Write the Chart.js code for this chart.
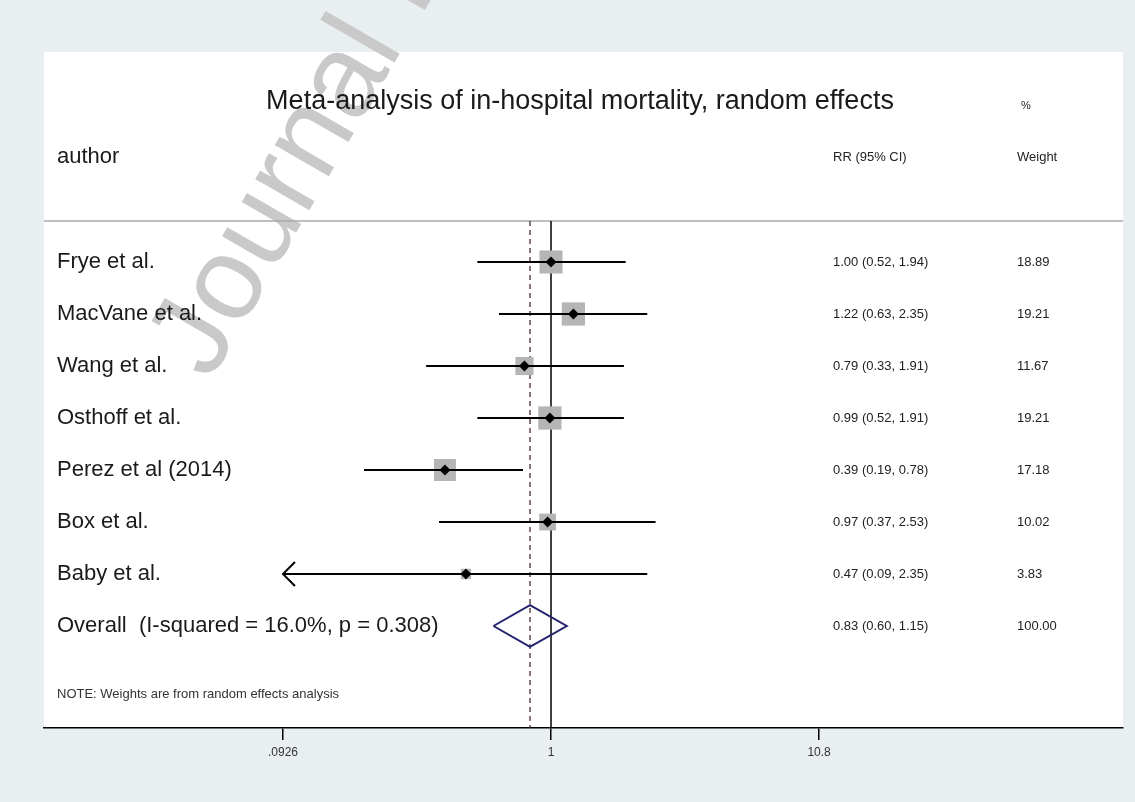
<!DOCTYPE html>
<html>
<head>
<meta charset="utf-8">
<script src="https://cdn.jsdelivr.net/npm/chart.js@4.4.1/dist/chart.umd.min.js"></script>
<style>
  html, body { margin: 0; padding: 0; background: #e9eff1; }
  #wrap { width: 1135px; height: 802px; position: relative; }
</style>
</head>
<body>
<div id="wrap"><canvas id="c"></canvas></div>
<script>
// ---------------- DATA ----------------
const authors = ['Frye et al.', 'MacVane et al.', 'Wang et al.', 'Osthoff et al.', 'Perez et al (2014)', 'Box et al.', 'Baby et al.'];
const rr      = [1.00, 1.22, 0.79, 0.99, 0.39, 0.97, 0.47];
const ciLow   = [0.52, 0.63, 0.33, 0.52, 0.19, 0.37, 0.09];
const ciHigh  = [1.94, 2.35, 1.91, 1.91, 0.78, 2.53, 2.35];
const weights = [18.89, 19.21, 11.67, 19.21, 17.18, 10.02, 3.83];

const overallLabel  = 'Overall  (I-squared = 16.0%, p = 0.308)';
const overallRR     = 0.83;
const overallLow    = 0.60;
const overallHigh   = 1.15;
const overallWeight = 100.00;

const tickValues = [0.0926, 1, 10.8];
const tickLabels = ['.0926', '1', '10.8'];

const titleText  = 'Meta-analysis of in-hospital mortality, random effects';
const studyHeader = 'author';
const ciHeader    = 'RR (95% CI)';
const weightHeader = 'Weight';
const pctHeader    = '%';
const noteText   = 'NOTE: Weights are from random effects analysis';
const watermark  = 'Journal Pre-proof';

// ---------------- BUILD ----------------
const FONT = '"Liberation Sans", Arial, Helvetica, sans-serif';
const axisLo = tickValues[0];
const axisHi = tickValues[tickValues.length - 1];
const overallRow = authors.length;
const fmt = v => v.toFixed(2);

const ciDatasets = authors.map((a, i) => ({
  type: 'scatter',
  showLine: true,
  data: [{x: Math.max(ciLow[i], axisLo), y: i}, {x: Math.min(ciHigh[i], axisHi), y: i}],
  borderColor: '#000',
  borderWidth: 2,
  pointRadius: 0,
  order: 1
}));

const boxDataset = {
  type: 'scatter',
  data: rr.map((v, i) => ({x: v, y: i})),
  pointStyle: 'rect',
  pointRadius: ctx => 3.75 * Math.sqrt(weights[ctx.dataIndex]),
  backgroundColor: '#b5b5b5',
  borderWidth: 0,
  order: 3
};

const markerDataset = {
  type: 'scatter',
  data: rr.map((v, i) => ({x: v, y: i})),
  pointStyle: 'rectRot',
  pointRadius: 5.5,
  backgroundColor: '#000',
  borderWidth: 0,
  order: 0
};

const dH = 0.4;
const diamondDataset = {
  type: 'scatter',
  showLine: true,
  data: [
    {x: overallLow, y: overallRow},
    {x: overallRR, y: overallRow - dH},
    {x: overallHigh, y: overallRow},
    {x: overallRR, y: overallRow + dH},
    {x: overallLow, y: overallRow}
  ],
  borderColor: '#23236e',
  borderWidth: 2,
  pointRadius: 0,
  order: 1
};

const forestPlugin = {
  id: 'forest',
  beforeDraw(chart) {
    const {ctx, chartArea: a, width, height} = chart;
    ctx.save();
    ctx.fillStyle = '#e9eff1';
    ctx.fillRect(0, 0, width, height);
    ctx.fillStyle = '#ffffff';
    ctx.fillRect(a.left, a.top, a.right - a.left, a.bottom - a.top);
    // watermark
    ctx.translate(210, 382);
    ctx.rotate(-60 * Math.PI / 180);
    ctx.font = '118px ' + FONT;
    ctx.fillStyle = '#c9c9c9';
    ctx.textBaseline = 'alphabetic';
    ctx.textAlign = 'left';
    ctx.fillText(watermark, 0, 0);
    ctx.restore();
  },
  beforeDatasetsDraw(chart) {
    const {ctx, chartArea: a, scales: {x, y}} = chart;
    const sepY = y.getPixelForValue(-0.79);
    ctx.save();
    ctx.strokeStyle = '#a8a8a8';
    ctx.lineWidth = 1.5;
    ctx.beginPath();
    ctx.moveTo(a.left, sepY);
    ctx.lineTo(a.right, sepY);
    ctx.stroke();
    // null line at RR = 1
    const x1 = x.getPixelForValue(1);
    ctx.strokeStyle = '#000';
    ctx.lineWidth = 1.5;
    ctx.beginPath();
    ctx.moveTo(x1, sepY);
    ctx.lineTo(x1, a.bottom);
    ctx.stroke();
    // overall dashed line
    const xo = x.getPixelForValue(overallRR);
    ctx.strokeStyle = '#3a1c1c';
    ctx.lineWidth = 1.2;
    ctx.setLineDash([5, 4]);
    ctx.beginPath();
    ctx.moveTo(xo, sepY);
    ctx.lineTo(xo, a.bottom);
    ctx.stroke();
    ctx.restore();
  },
  afterDatasetsDraw(chart) {
    const {ctx, scales: {x, y}} = chart;
    ctx.save();
    // arrows for clipped CIs
    ctx.strokeStyle = '#000';
    ctx.lineWidth = 2;
    authors.forEach((a, i) => {
      const py = y.getPixelForValue(i);
      if (ciLow[i] < axisLo) {
        const px = x.getPixelForValue(axisLo);
        ctx.beginPath();
        ctx.moveTo(px + 12, py - 12);
        ctx.lineTo(px, py);
        ctx.lineTo(px + 12, py + 12);
        ctx.stroke();
      }
      if (ciHigh[i] > axisHi) {
        const px = x.getPixelForValue(axisHi);
        ctx.beginPath();
        ctx.moveTo(px - 12, py - 12);
        ctx.lineTo(px, py);
        ctx.lineTo(px - 12, py + 12);
        ctx.stroke();
      }
    });

    ctx.textBaseline = 'middle';
    const txt = (s, px, py, size, color, align) => {
      ctx.font = size + 'px ' + FONT;
      ctx.fillStyle = color;
      ctx.textAlign = align || 'left';
      ctx.fillText(s, px, py);
    };
    // headers
    txt(titleText, 580, y.getPixelForValue(-3.09), 27, '#1a1a1a', 'center');
    txt(pctHeader, 1021, y.getPixelForValue(-3.0), 11, '#222');
    txt(studyHeader, 57, y.getPixelForValue(-2.02), 22, '#1a1a1a');
    txt(ciHeader, 833, y.getPixelForValue(-2.02), 13, '#222');
    txt(weightHeader, 1017, y.getPixelForValue(-2.02), 13, '#222');
    // rows
    authors.forEach((a, i) => {
      const py = y.getPixelForValue(i);
      txt(a, 57, py, 22, '#1a1a1a');
      txt(fmt(rr[i]) + ' (' + fmt(ciLow[i]) + ', ' + fmt(ciHigh[i]) + ')', 833, py, 13, '#222');
      txt(fmt(weights[i]), 1017, py, 13, '#222');
    });
    const po = y.getPixelForValue(overallRow);
    txt(overallLabel, 57, po, 22, '#1a1a1a');
    txt(fmt(overallRR) + ' (' + fmt(overallLow) + ', ' + fmt(overallHigh) + ')', 833, po, 13, '#222');
    txt(fmt(overallWeight), 1017, po, 13, '#222');
    txt(noteText, 57, y.getPixelForValue(8.31), 13, '#333');
    ctx.restore();
  }
};

new Chart(document.getElementById('c'), {
  type: 'scatter',
  data: { datasets: [markerDataset, ...ciDatasets, diamondDataset, boxDataset] },
  options: {
    responsive: true,
    maintainAspectRatio: false,
    animation: false,
    events: [],
    layout: { autoPadding: false, padding: { left: 44, right: 12, top: 52, bottom: 0 } },
    plugins: { legend: { display: false }, tooltip: { enabled: false } },
    scales: {
      x: {
        type: 'logarithmic',
        position: 'bottom',
        bounds: 'data',
        min: 0.01110,
        max: 160.4,
        afterBuildTicks: s => { s.ticks = tickValues.map(v => ({ value: v })); },
        afterFit: s => { s.height = 74; },
        ticks: {
          autoSkip: false,
          maxRotation: 0,
          padding: 5,
          color: '#333',
          font: { family: FONT, size: 12 },
          callback: (v, i) => tickLabels[i]
        },
        grid: { display: true, drawOnChartArea: false, drawTicks: true, tickLength: 12, color: '#000', lineWidth: 1.5 },
        border: { display: true, color: '#000', width: 1.5 }
      },
      y: {
        type: 'linear',
        display: false,
        reverse: true,
        min: -4.0385,
        max: 8.9615
      }
    }
  },
  plugins: [forestPlugin]
});
</script>
</body>
</html>
